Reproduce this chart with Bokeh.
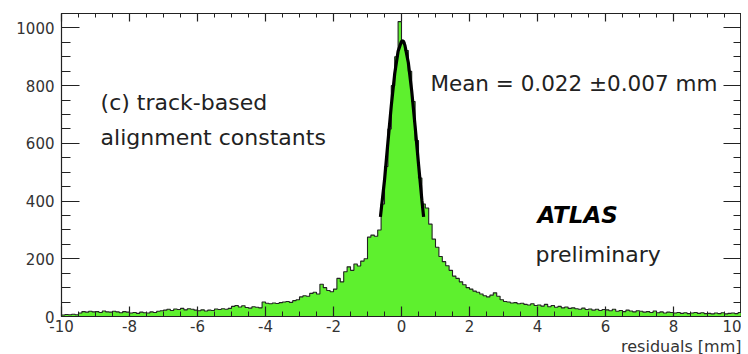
from bokeh.plotting import figure
from bokeh.models import (LinearAxis, SingleIntervalTicker, Label, Title,
                          CustomLabelingPolicy, PrintfTickFormatter)
from bokeh.embed import file_html
from bokeh.resources import INLINE
import numpy as np

# ---- data ----
x_min, x_max, bin_width = -10.0, 10.0, 0.1
counts = [
    5, 7, 6, 8, 6, 12, 17, 15, 18, 16,
    17, 14, 19, 16, 15, 18, 16, 13, 17, 15,
    12, 14, 11, 15, 13, 12, 16, 14, 18, 20,
    22, 25, 21, 26, 24, 28, 23, 27, 25, 22,
    20, 23, 19, 22, 21, 26, 24, 27, 25, 28,
    35, 38, 33, 37, 31, 29, 34, 32, 30, 50,
    46, 44, 47, 45, 48, 50, 52, 49, 55, 58,
    68, 72, 70, 80, 84, 78, 112, 100, 90, 86,
    95, 132, 120, 155, 172, 160, 182, 175, 192, 200,
    275, 282, 278, 300, 390, 520, 650, 800, 900, 1022,
    952, 922, 850, 745, 610, 480, 390, 376, 320, 268,
    240, 208, 190, 176, 160, 140, 132, 120, 110, 100,
    95, 88, 84, 78, 72, 68, 74, 82, 70, 58,
    52, 50, 47, 48, 44, 46, 42, 40, 44, 38,
    40, 36, 42, 34, 38, 32, 35, 30, 33, 28,
    30, 27, 25, 29, 24, 26, 22, 25, 21, 24,
    23, 20, 25, 18, 21, 17, 22, 19, 16, 20,
    18, 15, 17, 14, 19, 13, 16, 12, 15, 14,
    12, 14, 11, 13, 10, 12, 14, 11, 13, 10,
    11, 9, 12, 10, 13, 9, 11, 12, 10, 14,
]
fit_x = [-0.62, -0.5, -0.4, -0.3, -0.2, -0.1, 0.0, 0.05, 0.1, 0.2, 0.3, 0.4, 0.5, 0.6, 0.65]
fit_y = [345, 472, 603, 731, 841, 919, 954, 955, 940, 880, 782, 660, 529, 403, 345]

x_ticks_major = 2
y_ticks_major = 200
y_max = 1050

mean_text = "Mean = 0.022 \u00b10.007 mm"
label_c1 = "(c) track-based"
label_c2 = "alignment constants"
atlas_text = "ATLAS"
prelim_text = "preliminary"
x_title = "residuals [mm]"

# ---- derived ----
n = len(counts)
left = np.round(x_min + bin_width * np.arange(n), 6)
step_x = list(left) + [x_max]
step_y = list(counts) + [counts[-1]]

FONT = "DejaVu Sans"
GREEN = "#5ef02e"

p = figure(frame_width=680, frame_height=303, x_range=(x_min, x_max), y_range=(0, y_max),
           output_backend="svg", toolbar_location=None,
           min_border_left=61, min_border_right=0, min_border_top=13, min_border_bottom=0,
           x_axis_location=None, y_axis_location=None)
p.grid.visible = False
p.outline_line_color = "#333333"
p.background_fill_color = "white"
p.border_fill_color = "white"

# histogram
p.varea_step(x=step_x, y1=[0] * len(step_x), y2=step_y, step_mode="after",
             fill_color=GREEN)
p.step(x=step_x, y=step_y, mode="after", line_color="#222222", line_width=1.1)

# fit
p.line(fit_x, fit_y, line_color="black", line_width=3.2)

hide_all = CustomLabelingPolicy(code="for (const i of indices) { indices.unset(i) } return indices")

# axes
def style(ax, major_in, minor_in, labels):
    ax.major_tick_in = major_in
    ax.major_tick_out = 0
    ax.minor_tick_in = minor_in
    ax.minor_tick_out = 0
    ax.axis_line_color = "#222222"
    ax.major_tick_line_color = "#222222"
    ax.minor_tick_line_color = "#222222"
    ax.axis_line_width = 1.2
    ax.major_tick_line_width = 1.2
    ax.formatter = PrintfTickFormatter(format="%d")
    if labels:
        ax.major_label_text_font = FONT
        ax.major_label_text_font_size = "15px"
        ax.major_label_text_color = "#333333"
    else:
        ax.major_label_policy = hide_all
        ax.major_label_text_font_size = "0px"
        ax.major_label_standoff = 0

xb = LinearAxis(ticker=SingleIntervalTicker(interval=x_ticks_major, num_minor_ticks=4))
style(xb, 10, 5, True)
xb.major_label_standoff = 3
p.add_layout(xb, "below")

xt = LinearAxis(ticker=SingleIntervalTicker(interval=x_ticks_major, num_minor_ticks=4))
style(xt, 8, 4, False)
p.add_layout(xt, "above")

yl = LinearAxis(ticker=SingleIntervalTicker(interval=y_ticks_major, num_minor_ticks=4))
style(yl, 18, 9, True)
yl.major_label_standoff = 7
p.add_layout(yl, "left")

yr = LinearAxis(ticker=SingleIntervalTicker(interval=y_ticks_major, num_minor_ticks=4))
style(yr, 18, 8, False)
p.add_layout(yr, "right")

# x-axis title (right aligned, under the tick labels)
p.add_layout(Title(text=x_title, align="right", text_font=FONT, text_font_size="16px",
                   text_font_style="normal", text_color="#333333", standoff=0, offset=0),
             "below")

# texts
def add_label(x, y, text, size="22px", style_="normal", color="#222222", align="left"):
    p.add_layout(Label(x=x, y=y, text=text, text_font=FONT, text_font_size=size,
                       text_font_style=style_, text_color=color, text_align=align,
                       text_baseline="alphabetic"))

add_label(-8.85, 743, label_c1)
add_label(-8.85, 619, label_c2)
add_label(0.85, 808, mean_text, size="21.5px")
add_label(4.0, 352, atlas_text, size="23px", style_="bold italic", color="black")
add_label(3.94, 216, prelim_text)

open("out.html", "w").write(file_html(p, INLINE))
